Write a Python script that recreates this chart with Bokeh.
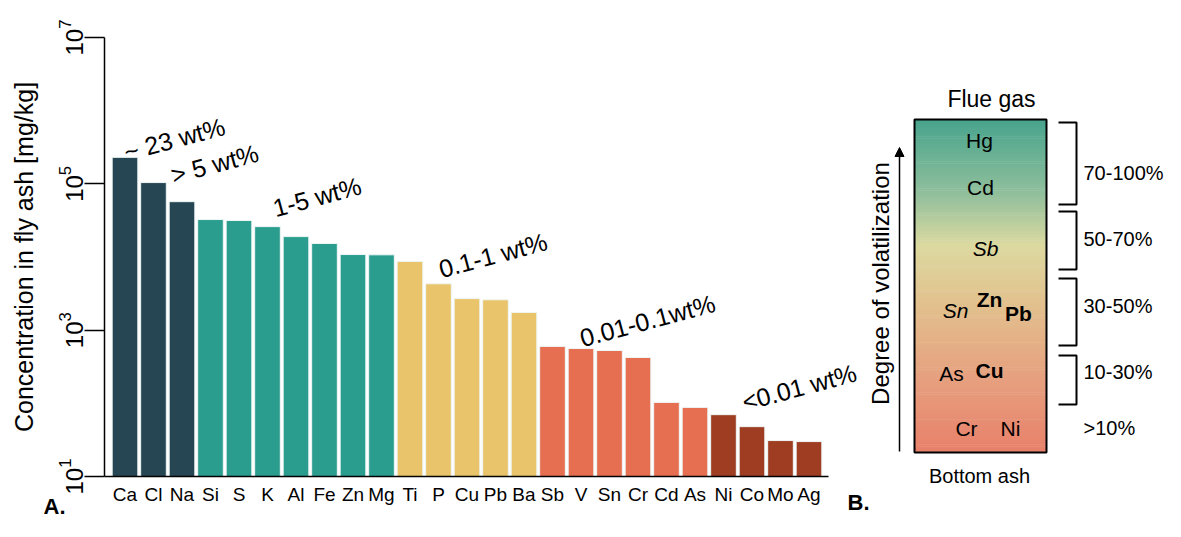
import math
from bokeh.plotting import figure
from bokeh.models import (Range1d, FixedTicker, Label, Arrow, NormalHead,
                          ColumnDataSource, LogTickFormatter, LinearScale)
from bokeh.transform import factor_cmap
from bokeh.core.properties import value
from bokeh.embed import file_html
from bokeh.resources import INLINE

# ---------------- data (panel A) ----------------
elements = ["Ca", "Cl", "Na", "Si", "S", "K", "Al", "Fe", "Zn", "Mg",
            "Ti", "P", "Cu", "Pb", "Ba", "Sb", "V", "Sn", "Cr", "Cd",
            "As", "Ni", "Co", "Mo", "Ag"]
concentration = [2.3e5, 1.04e5, 5.7e4, 3.25e4, 3.15e4, 2.6e4, 1.9e4, 1.53e4, 1.08e4, 1.07e4,
                 8.7e3, 4.3e3, 2.7e3, 2.6e3, 1.75e3, 600, 561, 527, 423, 103,
                 88, 70, 48, 31, 30]
group = [">5 wt%"] * 3 + ["1-5 wt%"] * 7 + ["0.1-1 wt%"] * 5 + ["0.01-0.1 wt%"] * 6 + ["<0.01 wt%"] * 4
group_names = [">5 wt%", "1-5 wt%", "0.1-1 wt%", "0.01-0.1 wt%", "<0.01 wt%"]
group_colors = ["#264653", "#2a9d8f", "#e9c46a", "#e76f51", "#9e3d22"]
y_ticks = [1e1, 1e3, 1e5, 1e7]
annotations = ["~ 23  wt%", "> 5 wt%", "1-5 wt%", "0.1-1 wt%", "0.01-0.1wt%", "<0.01 wt%"]

# ---------------- data (panel B) ----------------
panel_elements = ["Hg", "Cd", "Sb", "Sn", "Zn", "Pb", "As", "Cu", "Cr", "Ni"]
panel_styles = ["normal", "normal", "italic", "italic", "bold", "bold", "normal", "bold", "normal", "normal"]
range_labels = ["70-100%", "50-70%", "30-50%", "10-30%", ">10%"]

FONT = "Liberation Sans"
W, H = 1165, 521

# one figure, frame = whole canvas; axes are placed with fixed_location
p = figure(width=W, height=H, x_range=Range1d(-4.368, 36.509),
           y_range=Range1d(10 ** 0.385, 10 ** 7.5054), y_axis_type="log",
           output_backend="svg", toolbar_location=None,
           min_border=0, min_border_left=0, min_border_right=0,
           min_border_top=0, min_border_bottom=0)
p.extra_x_ranges = {"px": Range1d(0, W)}
p.extra_y_ranges = {"py": Range1d(H, 0)}
p.extra_x_scales = {"px": LinearScale()}
p.extra_y_scales = {"py": LinearScale()}
p.outline_line_color = None
p.grid.visible = False

# ================= Panel A =================
src = ColumnDataSource(dict(x=list(range(len(elements))), top=concentration, group=group))
p.vbar(x="x", top="top", bottom=1e1, width=0.9, source=src,
       fill_color=factor_cmap("group", group_colors, group_names),
       line_color="#eef6f5", line_width=1)

ya = p.yaxis[0]
ya.fixed_location = -0.72
ya.bounds = (1e1, 1e7)
ya.ticker = FixedTicker(ticks=y_ticks)
ya.formatter = LogTickFormatter()
ya.major_label_orientation = "vertical"
ya.major_tick_out = 20
ya.major_tick_in = 0
ya.minor_tick_out = 0
ya.minor_tick_in = 0
ya.axis_line_width = 1.5
ya.major_tick_line_width = 1.5
ya.major_label_text_font = FONT
ya.major_label_text_font_size = "24px"
ya.major_label_text_color = "black"
ya.major_label_standoff = 1
ya.axis_label = "Concentration in fly ash [mg/kg]"
ya.axis_label_text_font = FONT
ya.axis_label_text_font_size = "25px"
ya.axis_label_text_font_style = "normal"
ya.axis_label_text_color = "black"
ya.axis_label_standoff = 18

xa = p.xaxis[0]
xa.fixed_location = 1e1
xa.bounds = (-0.72, 24.68)
xa.ticker = FixedTicker(ticks=list(range(len(elements))))
xa.major_label_overrides = {i: e for i, e in enumerate(elements)}
xa.major_tick_out = 0
xa.major_tick_in = 0
xa.minor_tick_out = 0
xa.axis_line_width = 1.5
xa.major_label_text_font = FONT
xa.major_label_text_font_size = "19px"
xa.major_label_text_color = "black"
xa.major_label_standoff = 7

ann_pos = [(-0.02, 2.68e5), (1.63, 1.30e5), (5.21, 4.6e4), (11.03, 6.75e3), (15.98, 7.7e2), (21.67, 1.03e2)]
for (ax, ay), txt in zip(ann_pos, annotations):
    p.add_layout(Label(x=ax, y=ay, text=txt, angle=15, angle_units="deg",
                       text_align="left", text_baseline="alphabetic",
                       text_font=FONT, text_font_size="25px", text_color="black"))

# ================= Panel B =================
def hex2rgb(h):
    h = h.lstrip("#")
    return tuple(int(h[i:i + 2], 16) for i in (0, 2, 4))

stops = [(0.0, "#48a38d"), (0.22, "#8fbf9c"), (0.38, "#dcd9a0"), (0.55, "#e2c18e"),
         (0.78, "#e6a07f"), (1.0, "#e8806a")]

def grad(t):
    for (t0, c0), (t1, c1) in zip(stops[:-1], stops[1:]):
        if t0 <= t <= t1:
            f = (t - t0) / (t1 - t0)
            a, b = hex2rgb(c0), hex2rgb(c1)
            return "#%02x%02x%02x" % tuple(round(a[k] + (b[k] - a[k]) * f) for k in range(3))
    return stops[-1][1]

R = dict(x_range_name="px", y_range_name="py")
box_l, box_r, box_t, box_b = 914, 1046, 119, 452
n = 160
tops, bots, cols = [], [], []
for i in range(n):
    y0 = box_t + (box_b - box_t) * i / n
    y1 = box_t + (box_b - box_t) * (i + 1) / n
    tops.append(y0)
    bots.append(y1 + 0.6)
    cols.append(grad((i + 0.5) / n))
p.quad(left=box_l, right=box_r, top=tops, bottom=bots, fill_color=cols, line_color=None, **R)
p.quad(left=box_l, right=box_r, top=box_t, bottom=box_b, fill_color=None,
       line_color="black", line_width=2, **R)

px = [979, 980, 985, 955, 989, 1018, 951, 989, 966, 1010]
py = [140, 187, 248, 310, 299, 313, 373, 370, 428, 428]
p.text(x=px, y=py, text=panel_elements, text_font_style=panel_styles,
       text_font=value(FONT), text_font_size="21px", text_align="center",
       text_baseline="middle", text_color="black", **R)

br = [(122, 204), (211, 269), (278, 345), (355, 404)]
xs, ys = [], []
for t, b in br:
    xs.append([1058, 1076, 1076, 1058])
    ys.append([t, t, b, b])
p.multi_line(xs=xs, ys=ys, line_color="black", line_width=2, **R)

p.text(x=[1083] * 5, y=[172, 238, 305, 371, 427], text=range_labels,
       text_font=value(FONT), text_font_size="20px", text_align="left",
       text_baseline="middle", text_color="black", **R)

p.text(x=[991], y=[98], text=["Flue gas"], text_font=value(FONT), text_font_size="23px",
       text_align="center", text_baseline="middle", text_color="black", **R)
p.text(x=[979], y=[475], text=["Bottom ash"], text_font=value(FONT), text_font_size="20px",
       text_align="center", text_baseline="middle", text_color="black", **R)
p.text(x=[880], y=[283], text=["Degree of volatilization"], angle=math.pi / 2,
       text_font=value(FONT), text_font_size="24px", text_align="center",
       text_baseline="middle", text_color="black", **R)

p.add_layout(Arrow(end=NormalHead(size=9, fill_color="black", line_color="black"),
                   x_start=899, y_start=451, x_end=899, y_end=147,
                   line_width=1.5, line_color="black", **R))

# panel letters
p.text(x=[43, 847], y=[506, 502], text=["A.", "B."], text_font=value(FONT),
       text_font_size="22px", text_font_style="bold", text_align="left",
       text_baseline="alphabetic", text_color="black", **R)

open("out.html", "w").write(file_html(p, INLINE))
